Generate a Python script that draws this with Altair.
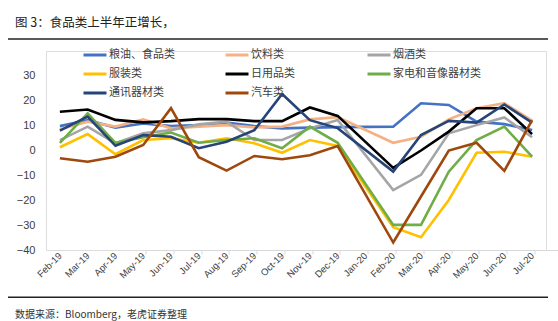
import altair as alt
import pandas as pd

months = ["Feb-19", "Mar-19", "Apr-19", "May-19", "Jun-19", "Jul-19", "Aug-19",
          "Sep-19", "Oct-19", "Nov-19", "Dec-19", "Jan-20", "Feb-20", "Mar-20",
          "Apr-20", "May-20", "Jun-20", "Jul-20"]

series_names = ["粮油、食品类", "饮料类", "烟酒类", "服装类", "日用品类",
                "家电和音像器材类", "通讯器材类", "汽车类"]
series_colors = ["#4472C4", "#F4B183", "#A5A5A5", "#FFC000", "#000000",
                 "#70AD47", "#264478", "#9E480E"]

grain_food = [9.8, 12.2, 9.2, 10.9, 9.8, 10.2, 11.2, 9.8, 8.9, 9.2, 9.4, None, 9.6, 19.0, 18.3, 11.6, 10.6, 8.2]
beverage = [8.5, 11.6, 9.6, 12.5, 8.9, 9.6, 10.2, 9.3, 9.6, 12.5, 13.4, None, 3.1, 5.5, 12.5, 17.0, 19.0, 12.0]
tobacco_liquor = [4.2, 9.6, 2.9, 6.9, 8.2, 10.5, 11.6, 4.2, 4.2, 8.9, 12.3, None, -15.9, -9.8, 6.9, 10.2, 13.3, 5.3]
apparel = [1.3, 6.6, -1.5, 4.2, 4.9, 3.1, 4.9, 2.9, -0.9, 4.2, 1.8, None, -30.8, -34.9, -19.9, -0.9, -0.5, -2.5]
daily_goods = [15.6, 16.5, 12.3, 11.3, 11.8, 12.6, 12.6, 11.8, 11.8, 17.3, 13.9, None, -7.0, 0.0, 7.6, 17.0, 17.0, 6.6]
appliances = [3.1, 14.9, 3.1, 5.3, 7.2, 3.1, 4.2, 4.9, 0.9, 9.6, 3.1, None, -29.9, -29.9, -8.5, 4.2, 9.6, -2.5]
telecom = [8.0, 13.6, 1.9, 6.2, 5.5, 0.9, 3.5, 8.2, 22.7, 12.2, 9.0, None, -8.5, 6.2, 11.9, 11.2, 18.5, 11.2]
autos = [-3.1, -4.5, -2.5, 2.2, 17.0, -2.7, -8.1, -2.2, -3.5, -1.9, 1.8, None, -37.0, -18.5, 0.0, 3.1, -8.2, 12.2]

all_values = [grain_food, beverage, tobacco_liquor, apparel, daily_goods,
              appliances, telecom, autos]

y_ticks = [-40, -30, -20, -10, 0, 10, 20, 30]

title_text = "图 3：食品类上半年正增长，"
source_text = "数据来源：Bloomberg，老虎证券整理"

rows = []
for order, (name, vals) in enumerate(zip(series_names, all_values)):
    for m, v in zip(months, vals):
        if v is not None:
            rows.append({"month": m, "series": name, "value": v, "order": order})
df = pd.DataFrame(rows)

FONT = "Liberation Sans, Noto Sans CJK SC"
CJK = "Noto Sans CJK SC, Liberation Sans"

x_scale = alt.Scale(domain=months, padding=0.5)
y_scale = alt.Scale(domain=[-40, 40], nice=False)

lines = alt.Chart(df).mark_line(strokeWidth=2.6).encode(
    x=alt.X("month:O", scale=x_scale, sort=months, title=None,
            axis=alt.Axis(orient="bottom", labelAngle=-45, labelFontSize=9.5, labelFont=FONT,
                          labelColor="#404040", domain=False, ticks=False,
                          labelPadding=4, labelAlign="right", labelBaseline="middle")),
    y=alt.Y("value:Q", scale=y_scale, title=None,
            axis=alt.Axis(values=y_ticks, grid=False, domain=False, ticks=False,
                          labelFontSize=11, labelFont=FONT, labelColor="#404040",
                          labelPadding=11)),
    color=alt.Color("series:N",
                    scale=alt.Scale(domain=series_names, range=series_colors),
                    legend=alt.Legend(orient="none", legendX=36, legendY=-9,
                                      columns=3, direction="horizontal",
                                      title=None, symbolType="stroke",
                                      symbolSize=529, symbolStrokeWidth=3,
                                      labelFont=CJK, labelFontSize=11,
                                      labelColor="#404040", labelOffset=1,
                                      columnPadding=22, rowPadding=-3,
                                      gridAlign="all", labelLimit=200)),
    detail="series:N",
    order="order:Q",
)

tick_axis = alt.Chart(df).mark_point(opacity=0).encode(
    x=alt.X("month:O", scale=x_scale, sort=months, title=None,
            axis=alt.Axis(orient="bottom", position=99.5, labels=False,
                          domainColor="#D9D9D9", domainWidth=1,
                          tickColor="#D9D9D9", tickSize=4, tickOffset=-13.9)),
    y=alt.value(100),
)

title_df = pd.DataFrame({"t": [title_text]})
source_df = pd.DataFrame({"t": [source_text]})

title = alt.Chart(title_df).mark_text(align="left", baseline="middle", fontSize=12.5,
                                      font=CJK, color="#222222").encode(
    x=alt.value(-31), y=alt.value(-28.3), text="t:N")
source = alt.Chart(source_df).mark_text(align="left", baseline="middle", fontSize=10,
                                        font=CJK, color="#333333").encode(
    x=alt.value(-31), y=alt.value(264), text="t:N")

top_rule = alt.Chart(title_df).mark_rule(color="#222222", strokeWidth=1.5).encode(
    x=alt.value(-38), x2=alt.value(502), y=alt.value(-12))
bottom_rule = alt.Chart(title_df).mark_rule(color="#222222", strokeWidth=1.5).encode(
    x=alt.value(-38), x2=alt.value(502), y=alt.value(246.3))

chart = alt.layer(lines, tick_axis, title, source, top_rule, bottom_rule).resolve_axis(
    x="independent"
).properties(
    width=500, height=199,
    autosize=alt.AutoSizeParams(type="none"),
    padding={"left": 46, "top": 51, "right": 12, "bottom": 71},
).configure_view(stroke=None).configure(background="white")

chart.save("out.html", embed_options={"renderer": "svg", "actions": False})
